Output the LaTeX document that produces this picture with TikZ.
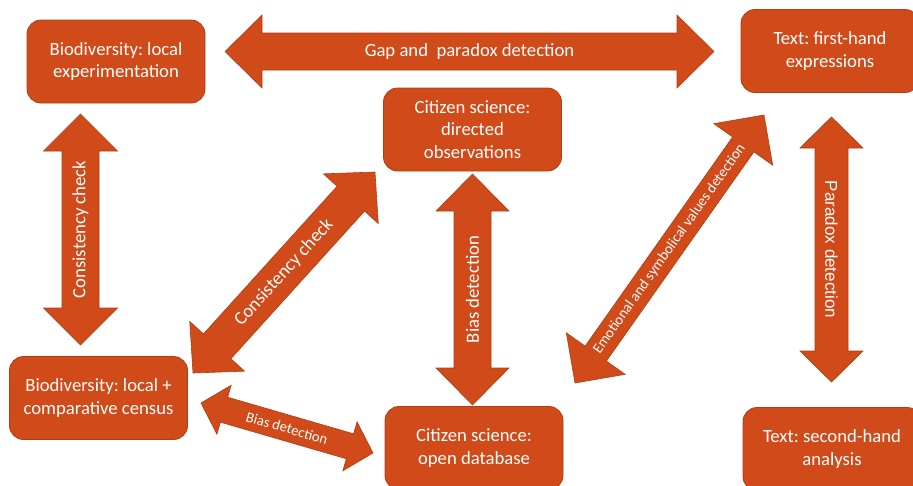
\documentclass[tikz,border=0pt]{standalone}
\usepackage{fontspec}
\setmainfont{Carlito}
\newfontfamily\arialfont{Liberation Sans}
\usetikzlibrary{calc}
\frenchspacing

\definecolor{boxfill}{HTML}{D14A19}
\definecolor{boxline}{HTML}{AF3E12}

%% block double arrow: #1 from, #2 to, #3 half shaft, #4 half head, #5 head length, #6 label style, #7 label
\newcommand{\blockarrow}[7]{%
  \filldraw[arrowdecorate] (#1) -- ($(#1)!#5!(#2)!#4!90:(#2)$) -- ($(#1)!#5!(#2)!#3!90:(#2)$)
    -- ($(#2)!#5!(#1)!#3!-90:(#1)$) -- ($(#2)!#5!(#1)!#4!-90:(#1)$) -- (#2)
    -- ($(#2)!#5!(#1)!#4!90:(#1)$) -- ($(#2)!#5!(#1)!#3!90:(#1)$)
    -- ($(#1)!#5!(#2)!#3!-90:(#2)$) -- ($(#1)!#5!(#2)!#4!-90:(#2)$) -- cycle;
  \path (#1) -- (#2) node[midway,sloped,labeldecorate,#6] {#7};
}

\begin{document}
\begin{tikzpicture}
[x=1pt,y=-1pt,
  boxdecorate/.style={shape=rectangle,rounded corners=14pt,fill=boxfill,draw=boxline,
    line width=0.8pt,minimum width=178pt,minimum height=83pt,inner sep=0pt,
    align=center,text=white,font=\fontsize{18.67}{22.4}\selectfont},%
  arrowdecorate/.style={fill=boxfill,draw=boxline,line width=0.6pt,line join=miter},%
  labeldecorate/.style={text=white,inner sep=0pt,font=\fontsize{18.67}{22.4}\selectfont},%
  smalllabel/.style={font=\fontsize{14.67}{17}\selectfont},%
  sanslabel/.style={font=\arialfont\fontsize{17}{20}\selectfont}]
\useasboundingbox (0,0) rectangle (913,485);
%% boxes
\node (bioexp) at (116,61.5) [boxdecorate] {Biodiversity: local\\experimentation};
\node (textfirst) at (830,51) [boxdecorate] {Text: first-hand\\expressions};
\node (citdir) at (472.5,129.5) [boxdecorate] {Citizen science:\\directed\\observations};
\node (biocensus) at (98.5,398) [boxdecorate] {Biodiversity: local +\\comparative census};
\node (citopen) at (474,448) [boxdecorate] {Citizen science:\\open database};
\node (textsecond) at (832,449) [boxdecorate] {Text: second-hand\\analysis};
%% arrow tips
\foreach \tipname/\x/\y in {gapL/225/51.5, gapR/714/51.5, consB/80.5/345, consT/80.5/114,
  diagB/193/373, diagT/375/172, biasB/472.5/405, biasT/472.5/174,
  smallL/201/403, smallR/373/453, emoB/575/383, emoT/764/115,
  parT/831.5/117, parB/831.5/382} {
  \coordinate (\tipname) at (\x,\y);
}
%% arrows
\blockarrow{gapL}{gapR}{18.5pt}{36.5pt}{37pt}{}{Gap and~ paradox detection}
\blockarrow{consB}{consT}{18.5pt}{37pt}{37pt}{}{Consistency check}
\blockarrow{diagB}{diagT}{18.5pt}{37pt}{36pt}{}{Consistency check}
\blockarrow{biasB}{biasT}{18.5pt}{36.5pt}{37pt}{}{Bias detection}
\blockarrow{smallL}{smallR}{13pt}{25.5pt}{24pt}{smalllabel}{Bias detection}
\blockarrow{emoB}{emoT}{13pt}{36pt}{36pt}{smalllabel}{Emotional and symbolical values detection}
\blockarrow{parT}{parB}{16.5pt}{31.5pt}{31pt}{sanslabel}{Paradox detection}
\end{tikzpicture}
\end{document}
